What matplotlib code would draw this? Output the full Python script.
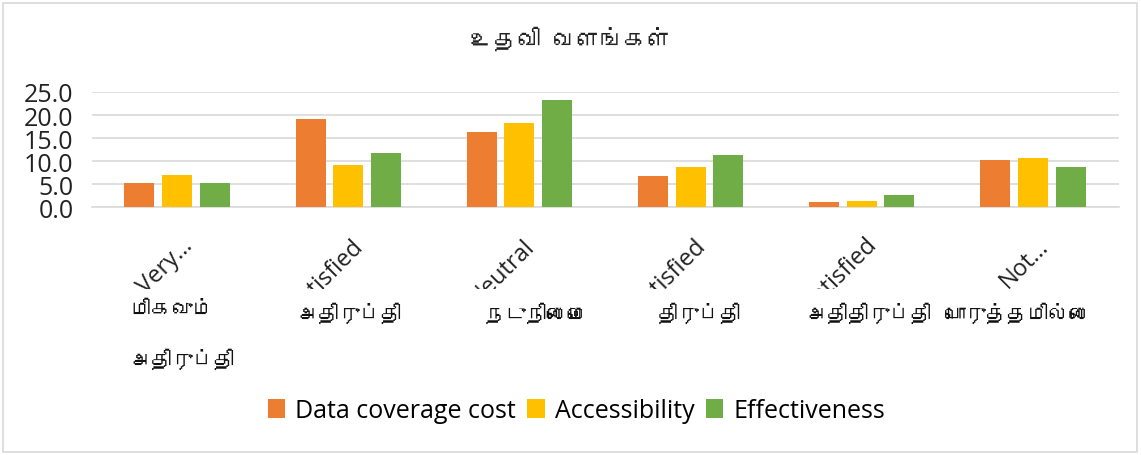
import matplotlib
matplotlib.use("Agg")
import matplotlib.pyplot as plt
import numpy as np
from matplotlib import font_manager
from matplotlib.ft2font import FT2Font
from matplotlib.transforms import Bbox, blended_transform_factory
from matplotlib.patches import Rectangle

# data
title = "உதவி வளங்கள்"
labels_en = ["Very…", "Dissatisfied", "Neutral", "Satisfied", "Very satisfied", "Not…"]
labels_ta = ["மிகவும்\nஅதிருப்தி", "அதிருப்தி", "நடுநிலைமை", "திருப்தி", "அதிதிருப்தி", "பொருத்தமில்லை"]
series_names = ["Data coverage cost", "Accessibility", "Effectiveness"]
data_cost = [5.3, 19.2, 16.3, 6.8, 1.2, 10.2]
accessibility = [7.0, 9.2, 18.2, 8.8, 1.5, 10.7]
effectiveness = [5.2, 11.7, 23.2, 11.3, 2.6, 8.7]
yticks = [0, 5, 10, 15, 20, 25]

colors = ["#ED7D31", "#FFC000", "#70AD47"]
ta_offsets = [-0.275, 0.01, 0.1, 0.05, 0.04, -0.09]


def find_tamil_font():
    for f in font_manager.fontManager.ttflist:
        try:
            if 0x0B95 in FT2Font(f.fname).get_charmap():
                return f.name
        except Exception:
            pass
    return None


tamil = find_tamil_font()
ta_family = [tamil, "DejaVu Sans"] if tamil else ["DejaVu Sans"]

plt.rcParams["font.family"] = ["Open Sans", "DejaVu Sans"]

fig = plt.figure(figsize=(11.41, 4.56), dpi=100)
ax = fig.add_axes([0.0802, 0.5428, 0.9001, 0.2533])

x = np.arange(len(labels_en))
w = 0.175
step = 0.22
for i, (vals, name) in enumerate(zip([data_cost, accessibility, effectiveness], series_names)):
    ax.bar(x + (i - 1) * step, vals, width=w, color=colors[i], label=name, zorder=3)

ax.set_xlim(-0.5, len(labels_en) - 0.5)
ax.set_ylim(0, 25)
ax.set_yticks(yticks)
ax.set_yticklabels([f"{v:.1f}" for v in yticks], fontsize=18, color="#222222")
ax.tick_params(axis="y", length=0, pad=13)
ax.set_xticks([])
ax.grid(axis="y", color="#d9d9d9", linewidth=1.2, zorder=0)
for s in ["top", "right", "left"]:
    ax.spines[s].set_visible(False)
ax.spines["bottom"].set_color("#d9d9d9")
ax.spines["bottom"].set_linewidth(1.2)

trans = blended_transform_factory(ax.transData, ax.transAxes)

# rotated english labels, clipped like the reference
clip = Bbox.from_extents(0, 456 - 290, 1141, 456 - 205)
for xi, lab in zip(x, labels_en):
    t = ax.text(xi + 0.02, -0.225, lab, transform=trans, rotation=45,
                rotation_mode="anchor", ha="right", va="top", fontsize=17,
                color="#222222", clip_on=True)
    t.set_clip_box(clip)

# tamil labels below
for xi, lab, off in zip(x, labels_ta, ta_offsets):
    if "\n" in lab:
        ax.text(xi + off, -0.80, lab, transform=trans, ha="left", va="top",
                fontsize=15, family=ta_family, linespacing=2.6, color="#111111")
    else:
        ax.text(xi + off, -0.905, lab, transform=trans, ha="center", va="center",
                fontsize=15, family=ta_family, color="#111111")

fig.text(0.5, 1 - 39 / 456, title, ha="center", va="center", fontsize=17,
         family=ta_family, color="#222222")

ax.legend(loc="center", bbox_to_anchor=(0.505, 1 - 412 / 456),
          bbox_transform=fig.transFigure, ncol=3, frameon=False, fontsize=18,
          handlelength=0.7, handleheight=0.8, handletextpad=0.4,
          columnspacing=0.45)

fig.patches.append(Rectangle((3 / 1141, 3 / 456), 1134 / 1141, 449 / 456,
                             transform=fig.transFigure, fill=False,
                             edgecolor="#d9d9d9", linewidth=1.2))

fig.savefig("out.png", dpi=100, facecolor="white")
